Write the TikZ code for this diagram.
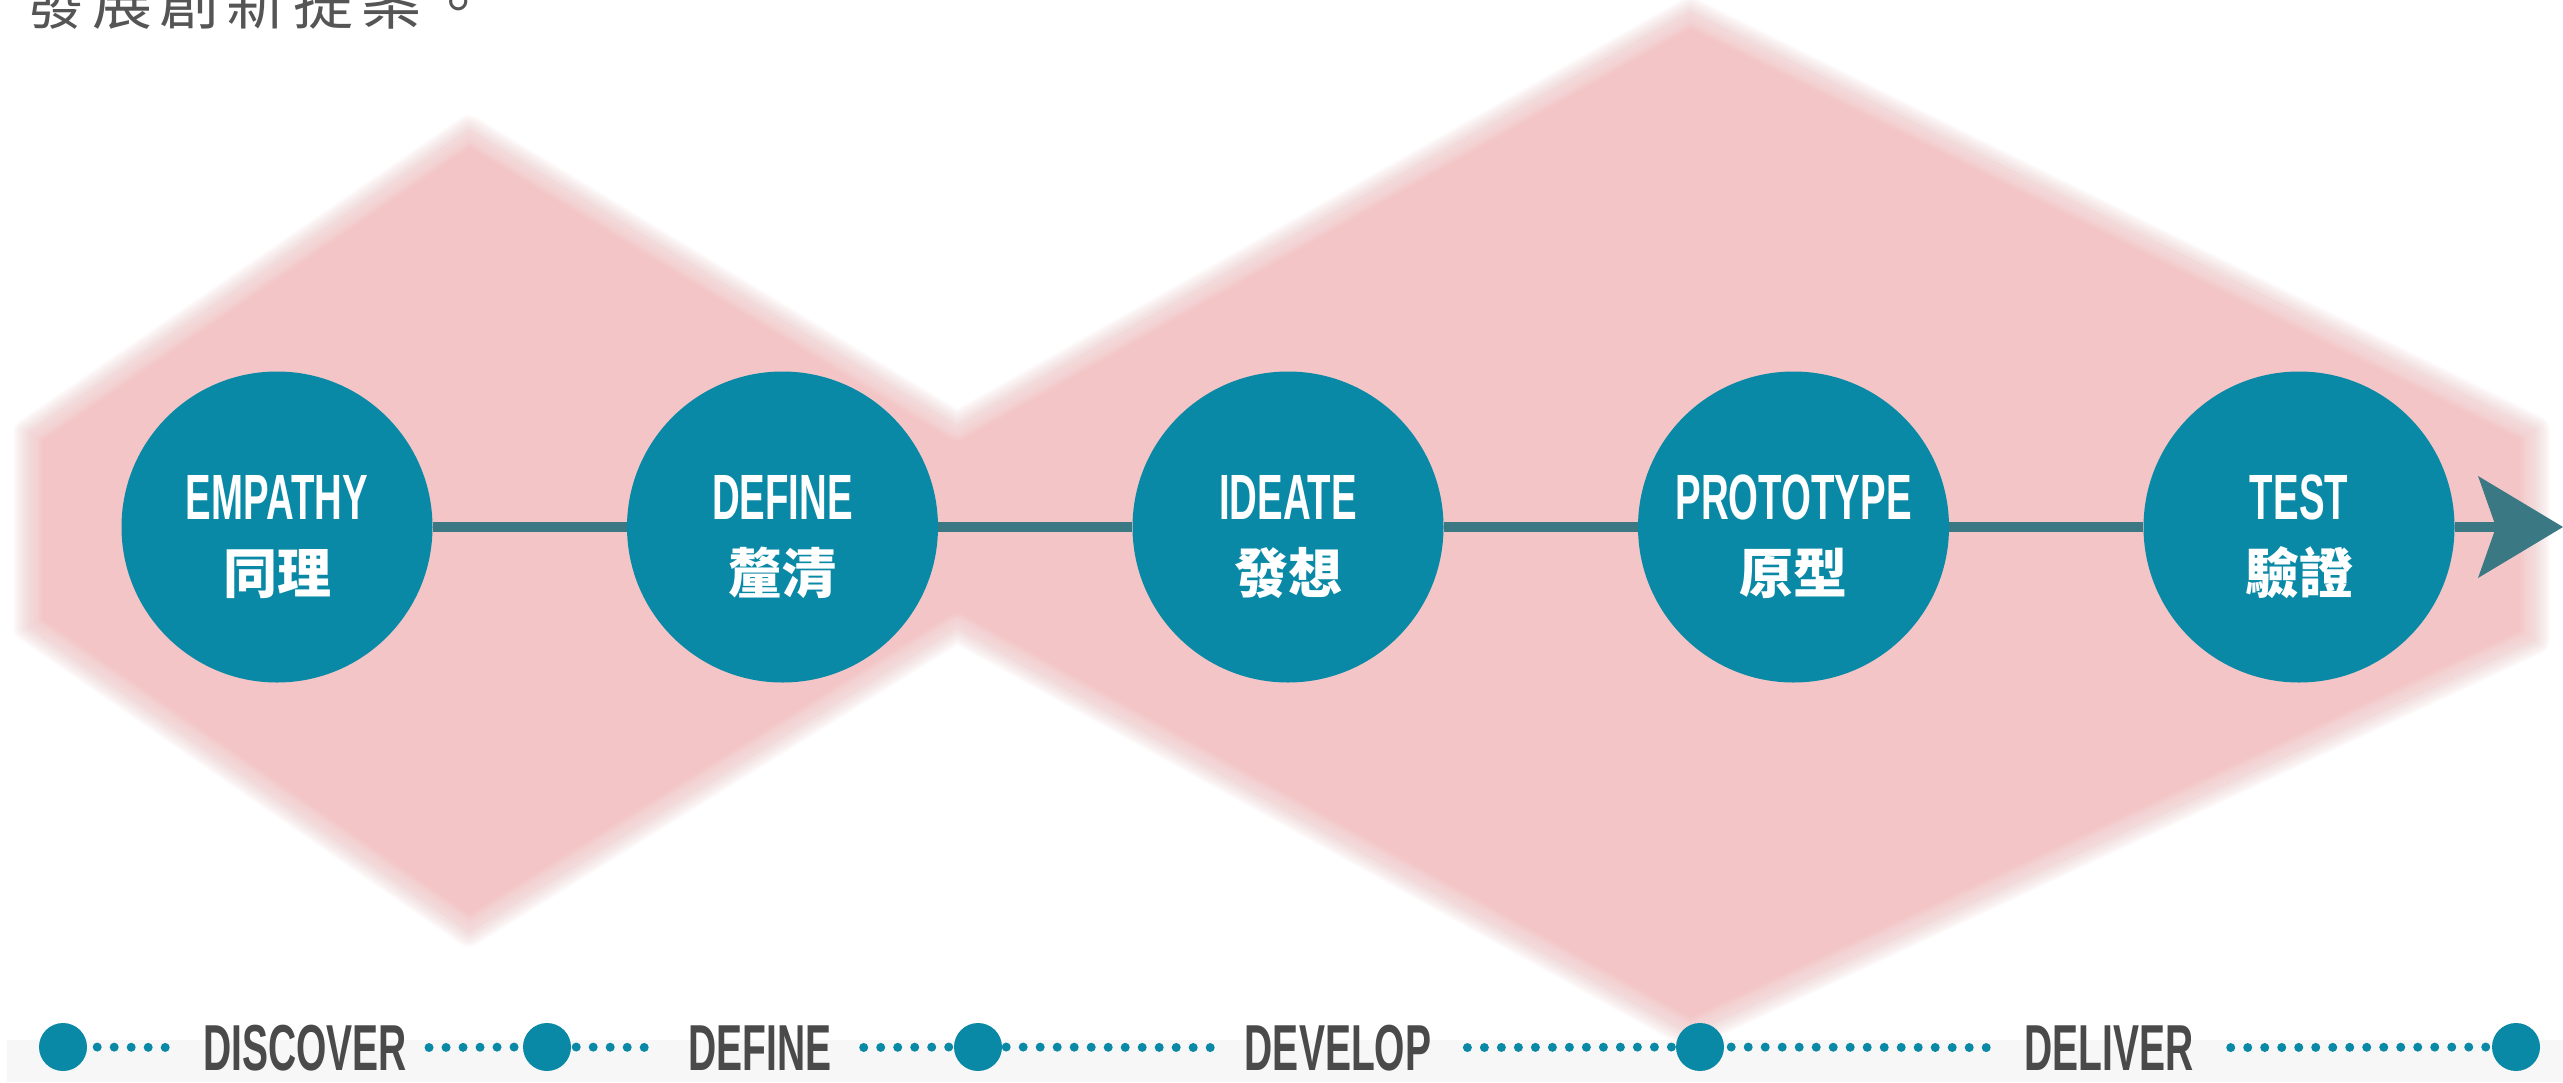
\documentclass[tikz,border=0pt]{standalone}
\usepackage{fontspec}
\setmainfont{Liberation Sans}
\newfontfamily\condfont[FakeStretch=0.6]{Liberation Sans}
\newfontfamily\cjk{Noto Sans CJK TC}
\newfontfamily\cjktop[LetterSpace=12]{Noto Sans CJK TC}
\definecolor{circ}{HTML}{0A89A6}
\definecolor{linec}{HTML}{3A7884}
\definecolor{pinkc}{HTML}{F3C5C6}
\definecolor{phasegray}{HTML}{4A4A4A}
\definecolor{topgray}{HTML}{555555}
\definecolor{bandgray}{HTML}{F7F7F7}
\tikzset{
  hexp/.style={insert path={(28,433) -- (469,130) -- (957,426) -- (1690,12) -- (2535,430) -- (2535,640) -- (1690,1034) -- (957,628) -- (469,932) -- (28,627) -- cycle}},
  stage/.style={circle, fill=circ, minimum size=311pt, inner sep=0pt},
  entxt/.style={anchor=base, text=white, inner sep=0pt, font=\condfont\bfseries\fontsize{64}{64}\selectfont},
  zhtxt/.style={anchor=base, text=white, inner sep=0pt, font=\cjk\bfseries\fontsize{54}{54}\selectfont},
  flow/.style={draw=linec, line width=10pt},
  bigdot/.style={circle, fill=circ, minimum size=48pt, inner sep=0pt},
  phase/.style={anchor=base, text=phasegray, inner sep=0pt, font=\condfont\bfseries\fontsize{65}{65}\selectfont},
  dots/.style={draw=circ, line width=9pt, line cap=round, dash pattern=on 0pt off 17pt},
}
\begin{document}
\begin{tikzpicture}[x=1pt,y=-1pt]
\useasboundingbox (0,0) rectangle (2563,1082);
\fill[white] (0,0) rectangle (2563,1082);
\fill[bandgray] (7,1040) rectangle (2563,1082);

% top text (cut off at the top edge, as in the reference)
\node[anchor=base west, inner sep=0pt, text=topgray, font=\cjktop\fontsize{60}{60}\selectfont] (intro) at (25,24) {發展創新提案。};

% blurred pink hexagons
\foreach \w in {2,4,...,30} {
  \draw[pinkc, line width=\w pt, opacity=0.045, line join=round, hexp];
}
\fill[pinkc, hexp];
\begin{scope}
  \clip[hexp];
  \foreach \w in {2,4,...,30} {
    \draw[white, line width=\w pt, opacity=0.045, line join=round, hexp];
  }
\end{scope}

% stages
\node[stage] (c1) at (277,527) {};
\node[stage] (c2) at (782.5,527) {};
\node[stage] (c3) at (1288,527) {};
\node[stage] (c4) at (1793.5,527) {};
\node[stage] (c5) at (2299,527) {};
\coordinate (notch) at (2496,527);
\coordinate (tip) at (2563,527);
\draw[flow] (c1.east) -- (c2.west);
\draw[flow] (c2.east) -- (c3.west);
\draw[flow] (c3.east) -- (c4.west);
\draw[flow] (c4.east) -- (c5.west);
\draw[flow] (c5.east) -- (notch);
\fill[linec] (tip) -- (2478,476) -- (notch) -- (2478,578) -- cycle;

\node[entxt] (e1) at (277,519) {EMPATHY};
\node[zhtxt] (z1) at (277,593) {同理};
\node[entxt] (e2) at (782.5,519) {DEFINE};
\node[zhtxt] (z2) at (782.5,593) {釐清};
\node[entxt] (e3) at (1288,519) {IDEATE};
\node[zhtxt] (z3) at (1288,593) {發想};
\node[entxt] (e4) at (1793.5,519) {PROTOTYPE};
\node[zhtxt] (z4) at (1793.5,593) {原型};
\node[entxt] (e5) at (2299,519) {TEST};
\node[zhtxt] (z5) at (2299,593) {驗證};

% timeline
\node[bigdot] (d1) at (63,1047) {};
\node[bigdot] (d2) at (547,1047) {};
\node[bigdot] (d3) at (978,1047) {};
\node[bigdot] (d4) at (1700,1047) {};
\node[bigdot] (d5) at (2516,1047) {};
\node[phase] (p1) at (305,1070) {DISCOVER};
\node[phase] (p2) at (760,1070) {DEFINE};
\node[phase] (p3) at (1338,1070) {DEVELOP};
\node[phase] (p4) at (2109,1070) {DELIVER};
\draw[dots, shorten <=10pt, shorten >=22pt] (d1.east) -- (p1.west);
\draw[dots, shorten <=22pt, shorten >=5pt] (p1.east) -- (d2.west);
\draw[dots, shorten <=5pt, shorten >=28pt] (d2.east) -- (p2.west);
\draw[dots, shorten <=32pt, shorten >=3pt] (p2.east) -- (d3.west);
\draw[dots, shorten <=4pt, shorten >=25pt] (d3.east) -- (p3.west);
\draw[dots, shorten <=36pt, shorten >=3pt] (p3.east) -- (d4.west);
\draw[dots, shorten <=7pt, shorten >=38pt] (d4.east) -- (p4.west);
\draw[dots, shorten <=37pt, shorten >=2pt] (p4.east) -- (d5.west);
\end{tikzpicture}
\end{document}
